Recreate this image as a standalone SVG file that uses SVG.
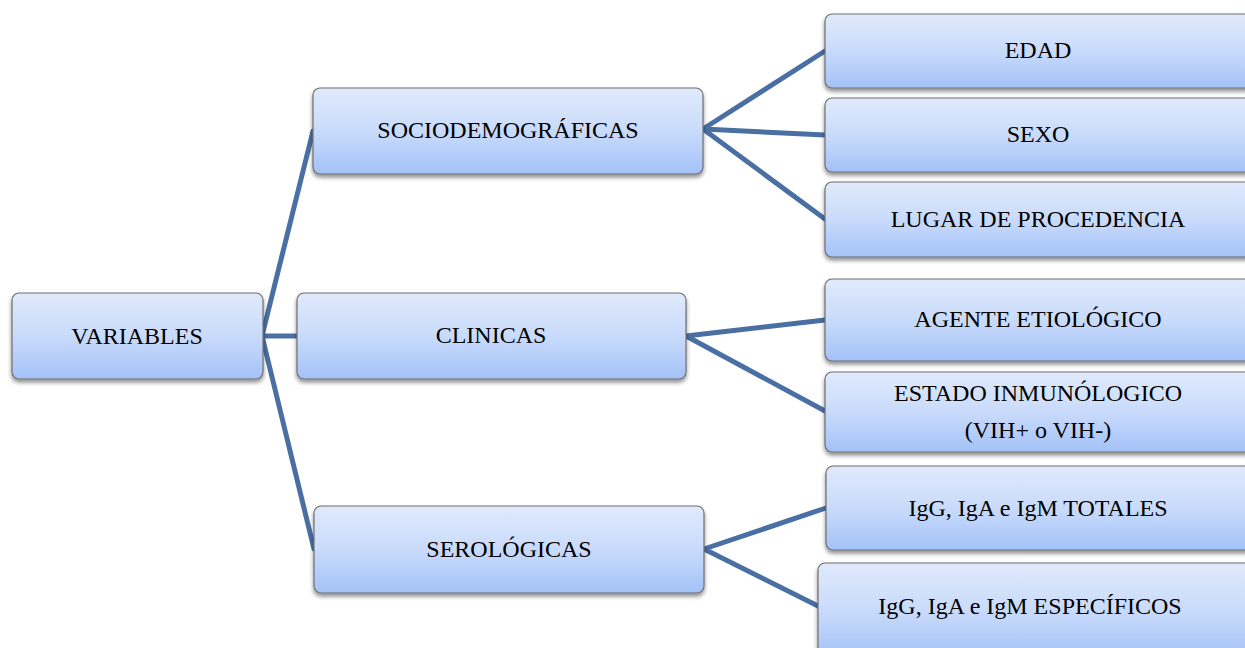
<svg xmlns="http://www.w3.org/2000/svg" width="1245" height="648" viewBox="0 0 1245 648">
<defs>
<linearGradient id="g" x1="0" y1="0" x2="0" y2="1">
<stop offset="0" stop-color="#e0eafc"/>
<stop offset="0.5" stop-color="#c9dbfb"/>
<stop offset="1" stop-color="#a3c2f8"/>
</linearGradient>
<filter id="sh" x="-10%" y="-20%" width="120%" height="150%">
<feGaussianBlur in="SourceAlpha" stdDeviation="2"/>
<feOffset dx="0" dy="3" result="b"/>
<feComponentTransfer><feFuncA type="linear" slope="0.45"/></feComponentTransfer>
<feMerge><feMergeNode/><feMergeNode in="SourceGraphic"/></feMerge>
</filter>
</defs>
<style>
.box{fill:url(#g);stroke:#6f6f6f;stroke-width:1.2;filter:url(#sh)}
.t{font-family:"Liberation Serif","Times New Roman",serif;font-size:24px;fill:#000;text-anchor:middle}
.c{stroke:#4a6fa3;stroke-width:5;fill:none;stroke-linecap:round}
</style>
<rect width="1245" height="648" fill="#fff"/>
<g id="connectors">
<line class="c" x1="262" y1="336" x2="313" y2="131"/>
<line class="c" x1="262" y1="336" x2="297" y2="336"/>
<line class="c" x1="262" y1="336" x2="314" y2="549"/>
<line class="c" x1="703" y1="129" x2="825" y2="51"/>
<line class="c" x1="703" y1="129" x2="825" y2="135"/>
<line class="c" x1="703" y1="129" x2="825" y2="219"/>
<line class="c" x1="686" y1="336" x2="825" y2="320"/>
<line class="c" x1="686" y1="336" x2="825" y2="411"/>
<line class="c" x1="704" y1="549" x2="826" y2="508"/>
<line class="c" x1="704" y1="549" x2="818" y2="606"/>
</g>
<g id="n-variables"><rect class="box" x="12" y="293" width="251" height="86" rx="7"/><text class="t" x="137" y="344">VARIABLES</text></g>
<g id="n-socio"><rect class="box" x="313" y="88" width="390" height="86" rx="7"/><text class="t" x="508" y="138">SOCIODEMOGRÁFICAS</text></g>
<g id="n-clinicas"><rect class="box" x="297" y="293" width="389" height="86" rx="7"/><text class="t" x="491" y="343">CLINICAS</text></g>
<g id="n-sero"><rect class="box" x="314" y="506" width="390" height="87" rx="7"/><text class="t" x="509" y="557">SEROLÓGICAS</text></g>
<g id="n-edad"><rect class="box" x="825" y="14" width="430" height="74" rx="7"/><text class="t" x="1038" y="58">EDAD</text></g>
<g id="n-sexo"><rect class="box" x="825" y="98" width="430" height="74" rx="7"/><text class="t" x="1038" y="142">SEXO</text></g>
<g id="n-lugar"><rect class="box" x="825" y="182" width="430" height="75" rx="7"/><text class="t" x="1038" y="227">LUGAR DE PROCEDENCIA</text></g>
<g id="n-agente"><rect class="box" x="825" y="279" width="430" height="82" rx="7"/><text class="t" x="1038" y="327">AGENTE ETIOLÓGICO</text></g>
<g id="n-estado"><rect class="box" x="825" y="372" width="430" height="80" rx="7"/><text class="t" x="1038" y="401">ESTADO INMUNÓLOGICO</text><text class="t" x="1038" y="438">(VIH+ o VIH-)</text></g>
<g id="n-totales"><rect class="box" x="826" y="466" width="430" height="84" rx="7"/><text class="t" x="1038" y="516">IgG, IgA e IgM TOTALES</text></g>
<g id="n-especificos"><rect class="box" x="818" y="563" width="440" height="95" rx="7"/><text class="t" x="1030" y="614">IgG, IgA e IgM ESPECÍFICOS</text></g>
</svg>
